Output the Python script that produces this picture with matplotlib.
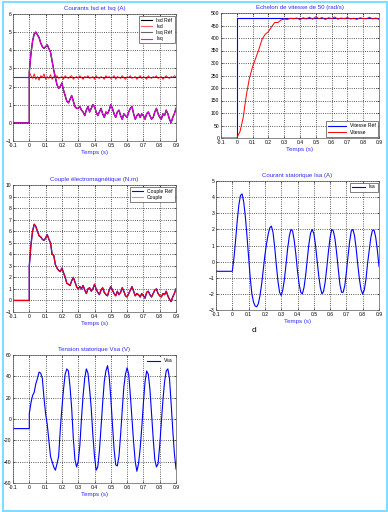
import numpy as np
import matplotlib
matplotlib.use("Agg")
import matplotlib.pyplot as plt
from matplotlib.lines import Line2D
from matplotlib.patches import Rectangle

plt.rcParams['font.family'] = ['Liberation Sans', 'DejaVu Sans']

# ---- data ----
t_fine = np.round(np.arange(0, 0.901, 0.01), 2)   # 0 .. 0.9 step 0.01
t_pre = [-0.1, 0.0]

isq = [2.8, 3.8, 4.5, 4.9, 5.0, 4.85, 4.7, 4.4, 4.2, 4.1,
       4.2, 4.3, 4.1, 3.9, 3.4, 2.9, 2.5, 2.1, 1.9, 2.0,
       2.2, 1.8, 1.5, 1.2, 1.1, 1.3, 1.5, 1.2, 0.9, 0.8,
       0.8, 0.9, 0.7, 0.6, 0.4, 0.7, 0.9, 0.6, 0.8, 1.0,
       0.9, 0.6, 0.4, 0.6, 0.8, 0.5, 0.3, 0.6, 0.5, 0.7,
       1.0, 0.8, 0.5, 0.3, 0.6, 0.7, 0.4, 0.2, 0.5, 0.4,
       0.3, 0.6, 0.8, 0.9, 0.5, 0.2, 0.4, 0.5, 0.3, 0.5,
       0.4, 0.2, 0.5, 0.6, 0.4, 0.2, 0.3, 0.6, 0.8, 0.5,
       0.3, 0.2, 0.5, 0.4, 0.7, 0.5, 0.2, 0.0, 0.3, 0.5, 0.8]
isq_ref = isq
isd = [2.8, 2.6, 2.45, 2.7, 2.4, 2.55, 2.35, 2.6, 2.5, 2.7,
       2.4, 2.55, 2.45, 2.65, 2.4, 2.55, 2.5, 2.6, 2.45, 2.5,
       2.55, 2.4, 2.6, 2.5, 2.45, 2.55, 2.6, 2.4, 2.5, 2.55,
       2.45, 2.6, 2.5, 2.4, 2.55, 2.5, 2.6, 2.45, 2.5, 2.55,
       2.4, 2.6, 2.5, 2.45, 2.55, 2.5, 2.4, 2.6, 2.5, 2.55,
       2.45, 2.5, 2.6, 2.4, 2.55, 2.5, 2.45, 2.6, 2.5, 2.4,
       2.55, 2.5, 2.6, 2.45, 2.5, 2.55, 2.4, 2.5, 2.6, 2.45,
       2.55, 2.5, 2.4, 2.6, 2.5, 2.45, 2.55, 2.5, 2.6, 2.45,
       2.5, 2.55, 2.4, 2.5, 2.6, 2.5, 2.45, 2.55, 2.5, 2.6, 2.55]
isd_ref_level = 2.5

t_speed = np.round(np.arange(0, 0.901, 0.02), 2)
speed = [0, 25, 80, 170, 240, 285, 320, 355, 395, 415,
         425, 445, 462, 462, 472, 476, 474, 479, 477, 480,
         473, 481, 476, 483, 475, 485, 477, 482, 474, 481,
         478, 484, 475, 480, 477, 482, 476, 479, 474, 481,
         478, 477, 483, 476, 480, 474]
speed_ref_level = 480

couple = [3.0, 4.8, 6.0, 6.6, 6.4, 6.0, 5.6, 5.5, 5.3, 5.2,
          5.4, 5.7, 5.3, 5.0, 4.0, 3.9, 3.1, 2.8, 2.6, 2.5,
          2.8, 2.4, 2.0, 1.5, 1.4, 1.3, 1.7, 2.0, 1.6, 1.2,
          1.0, 1.2, 1.0, 1.3, 0.9, 0.6, 1.0, 1.1, 0.8, 1.0,
          1.4, 1.0, 0.7, 0.5, 0.9, 1.1, 0.7, 0.5, 0.4, 0.9,
          1.2, 0.9, 0.6, 0.4, 0.8, 0.5, 0.7, 1.1, 0.8, 0.4,
          0.3, 0.6, 0.9, 1.2, 0.8, 0.4, 0.6, 0.5, 0.3, 0.6,
          0.4, 0.2, 0.7, 0.8, 0.5, 0.3, 0.6, 0.9, 1.0, 0.6,
          0.4, 0.3, 0.6, 0.5, 0.8, 0.4, 0.1, -0.1, 0.3, 0.6, 1.0]
couple_ref = couple

isa_pre = -0.6
isa = [-0.6, 0.2, 1.3, 2.5, 3.5, 4.1, 4.2, 3.7, 2.8, 1.6,
       0.3, -1.0, -2.0, -2.5, -2.75, -2.8, -2.6, -2.1, -1.4, -0.5,
       0.4, 1.1, 1.7, 2.1, 2.2, 1.8, 0.9, -0.2, -1.2, -1.9,
       -2.1, -1.75, -1.07, -0.13, 0.85, 1.6, 2.0, 1.9, 1.3, 0.45,
       -0.6, -1.4, -1.9, -2.0, -1.6, -0.85, 0.15, 1.1, 1.75, 2.0,
       1.75, 1.07, 0.1, -0.85, -1.6, -2.0, -1.85, -1.25, -0.35, 0.65,
       1.5, 2.0, 1.9, 1.4, 0.55, -0.45, -1.4, -1.9, -1.9, -1.5,
       -0.65, 0.35, 1.25, 1.9, 2.0, 1.6, 0.8, -0.2, -1.1, -1.75,
       -2.0, -1.75, -1.1, -0.1, 0.7, 1.5, 1.95, 1.95, 1.5, 0.7, -0.3]

vsa_pre = -9
vsa = [5, 15, 22, 25, 33, 38, 44, 43, 38, 20,
       5, -5, -20, -35, -40, -45, -48, -42, -35, -10,
       10, 28, 42, 47, 45, 30, 10, -18, -38, -45,
       -40, -25, 0, 22, 38, 47, 43, 28, 10, -15,
       -35, -48, -45, -30, -8, 15, 35, 45, 50, 40,
       20, -5, -28, -43, -44, -35, -15, 8, 30, 42,
       48, 42, 22, 0, -22, -40, -49, -42, -28, -8,
       15, 35, 45, 42, 28, 5, -18, -38, -45, -42,
       -25, -3, 18, 35, 45, 47, 38, 15, -10, -32, -47]

xticks = np.round(np.arange(-0.1, 0.91, 0.1), 1)
xticklabels = ['-0.1', '0', '0.1', '0.2', '0.3', '0.4', '0.5', '0.6', '0.7', '0.8', '0.9']

title_col = '#2a2aff'
W, H = 388, 512


def box(l, r, t, b):
    return [l / W, 1 - b / H, (r - l) / W, (b - t) / H]


def style(ax, title, ylim, yticks, yticklabels=None):
    ax.set_xlim(-0.1, 0.9)
    ax.set_ylim(*ylim)
    ax.set_xticks(xticks)
    ax.set_xticklabels(xticklabels)
    ax.set_yticks(yticks)
    if yticklabels is not None:
        ax.set_yticklabels(yticklabels)
    ax.tick_params(labelsize=3.6, length=1.5, width=0.4, pad=1.2, direction='in',
                   top=True, right=True)
    ax.grid(True, linestyle=':', color='0.15', linewidth=0.6)
    for s in ax.spines.values():
        s.set_linewidth(0.5)
        s.set_color('0.35')
    ax.set_title(title, fontsize=4.4, color=title_col, pad=3)
    ax.set_xlabel('Temps (s)', fontsize=4.4, color=title_col, labelpad=1.5)


fig = plt.figure(figsize=(3.88, 5.12), dpi=100)

# 1 - courants Isd / Isq
ax1 = fig.add_axes(box(13, 176, 14, 141))
ax1.plot([-0.1, 0.9], [isd_ref_level, isd_ref_level], color='blue', lw=0.8)
ax1.plot(t_pre + list(t_fine), [isd[0] * 0 + 2.5, 2.5] + isd, color='red', lw=0.6)
ax1.plot(t_pre + list(t_fine), [0, 0] + isq_ref, color='black', lw=1.0)
ax1.plot(t_pre + list(t_fine), [0, 0] + isq, color='magenta', lw=0.7)
style(ax1, 'Courants Isd et Isq (A)', (-1, 6), range(-1, 7))
h1 = [Line2D([], [], color='black', lw=0.8), Line2D([], [], color='#ff6060', lw=0.8),
      Line2D([], [], color='0.4', lw=0.8), Line2D([], [], color='magenta', lw=0.8)]
leg = ax1.legend(h1, ['Isd Réf', 'Isd', 'Isq Réf', 'Isq'], loc='upper right', fontsize=3.6,
                 handlelength=2.2, fancybox=False, borderpad=0.4, labelspacing=0.25,
                 framealpha=1, borderaxespad=0.3)
leg.get_frame().set_linewidth(0.5)
leg.get_frame().set_edgecolor('0.3')

# 2 - vitesse
ax2 = fig.add_axes(box(221, 379, 13, 138))
ax2.plot([-0.1, 0.0, 0.0, 0.9], [0, 0, speed_ref_level, speed_ref_level], color='blue', lw=0.8,
         label='Vitesse Réf')
ax2.plot([-0.1] + list(t_speed), [0] + speed, color='red', lw=0.7, label='Vitesse')
style(ax2, 'Echelon de vitesse de 50 (rad/s)', (0, 500), range(0, 501, 50))
leg = ax2.legend(loc='lower right', fontsize=3.6, handlelength=3.5, fancybox=False,
                 borderpad=0.4, labelspacing=0.25, framealpha=1, borderaxespad=0.3)
leg.get_frame().set_linewidth(0.5)
leg.get_frame().set_edgecolor('0.3')

# 3 - couple
ax3 = fig.add_axes(box(13, 176, 185, 312))
ax3.plot(t_pre + list(t_fine), [0, 0] + couple_ref, color='blue', lw=1.0)
ax3.plot(t_pre + list(t_fine), [0, 0] + couple, color='red', lw=0.7)
style(ax3, 'Couple électromagnétique (N.m)', (-1, 10), range(-1, 11))
h3 = [Line2D([], [], color='blue', lw=0.8), Line2D([], [], color='#ff8080', lw=0.8)]
leg = ax3.legend(h3, ['Couple Réf', 'Couple'], loc='upper right', fontsize=3.6,
                 handlelength=2.2, fancybox=False, borderpad=0.4, labelspacing=0.25,
                 framealpha=1, borderaxespad=0.3)
leg.get_frame().set_linewidth(0.5)
leg.get_frame().set_edgecolor('0.3')

# 4 - courant Isa
ax4 = fig.add_axes(box(216, 379, 181, 310))
ax4.plot([-0.1] + list(t_fine), [isa_pre] + isa, color='blue', lw=0.8, label='Isa')
style(ax4, 'Courant statorique Isa (A)', (-3, 5), range(-3, 6))
leg = ax4.legend(loc='upper right', fontsize=3.6, handlelength=2.5, fancybox=False,
                 borderpad=0.4, framealpha=1, borderaxespad=0.3)
leg.get_frame().set_linewidth(0.5)
leg.get_frame().set_edgecolor('0.3')

# 5 - tension Vsa
ax5 = fig.add_axes(box(13, 176, 355, 483))
ax5.plot([-0.1, 0.0] + list(t_fine), [vsa_pre, vsa_pre] + vsa, color='blue', lw=0.8, label='Vsa')
style(ax5, 'Tension statorique Vsa (V)', (-60, 60), range(-60, 61, 20))
leg = ax5.legend(loc='upper right', fontsize=3.6, handlelength=2.5, fancybox=False,
                 borderpad=0.4, framealpha=1, borderaxespad=0.3)
leg.get_frame().set_linewidth(0.5)
leg.get_frame().set_edgecolor('white')

fig.text(254 / W, 1 - 331 / H, 'd', fontsize=6, ha='center', va='center')
fig.patches.append(Rectangle((2.5 / W, 1.5 / H), 384.5 / W, 509 / H, transform=fig.transFigure,
                             fill=False, edgecolor='#7fdcff', lw=1.4))

fig.savefig('out.png', dpi=100)
